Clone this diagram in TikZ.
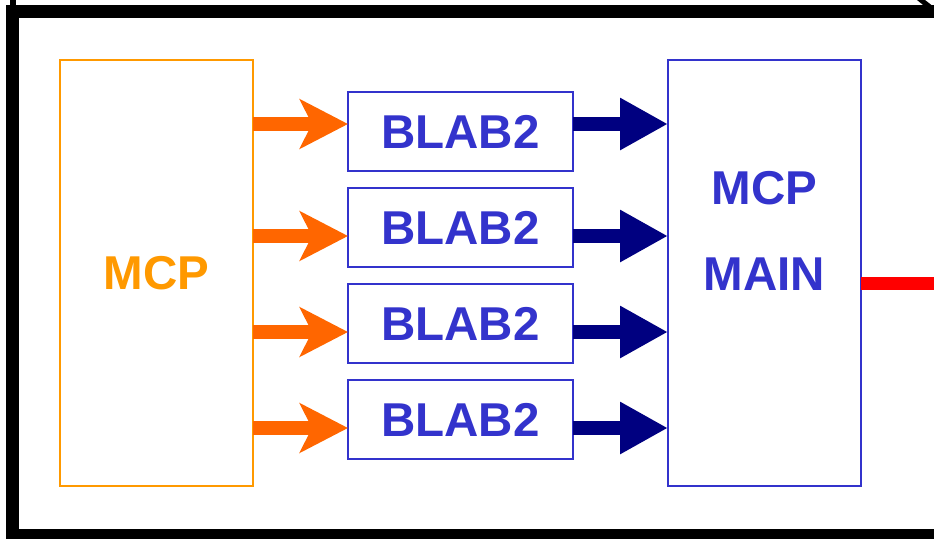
\documentclass[tikz,border=0pt]{standalone}
\usepackage{fontspec}
\setmainfont{Liberation Sans}
\usepackage{xcolor}
\definecolor{Amber}{HTML}{FF9900}
\definecolor{Pumpkin}{HTML}{FF6600}
\definecolor{Iris}{HTML}{3333CC}
\definecolor{Navy}{HTML}{000080}
\definecolor{Signal}{HTML}{FF0000}
\colorlet{cAmber}{Amber}
\colorlet{cOrange}{Pumpkin}
\colorlet{cBlue}{Iris}
\colorlet{cNavy}{Navy}
\colorlet{cRed}{Signal}
\usetikzlibrary{positioning, arrows.meta}
\tikzset{
	font = \fontsize{47.5}{86}\selectfont\bfseries,
	unit/.style={
		draw,
		rectangle,
		line width=1.5pt,
		inner sep=0pt,
		outer sep=0pt,
		align=center
	},
	big unit/.style={
		unit,
		minimum width=193pt,
		minimum height=426pt
	},
	blab/.style={
		unit,
		draw=cBlue,
		text=cBlue,
		minimum width=225pt,
		minimum height=79pt
	},
	fat arrow/.style={
		line width=14pt,
		-{Triangle[length=48pt, width=49pt]}
	},
	notched arrow/.style={
		line width=14pt,
		-{Stealth[length=48pt, width=49pt, inset=12pt]}
	},
	frame/.style={
		draw=black,
		line width=13pt
	}
}

\begin{document}
\begin{tikzpicture}[x=1pt, y=-1pt]
\useasboundingbox (0,0) rectangle (934,538);
\clip (0,0) rectangle (934,538);
% ---
% outer frame
% ---
\draw[frame] (12.5,11.5) rectangle (960,535.5);
\fill[black] (10,0) rectangle (16,6);
\fill[black] (917,0) -- (925,0) -- (934,7) -- (934,14) -- cycle;

% ---
% units
% ---
\node[big unit, draw=cAmber, text=cAmber] at (156.5,273) (mcp) {MCP};
\node[blab] at (460.5,131.5) (b1) {BLAB2};
\node[blab, below=17pt of b1] (b2) {BLAB2};
\node[blab, below=17pt of b2] (b3) {BLAB2};
\node[blab, below=17pt of b3] (b4) {BLAB2};
\node[big unit, draw=cBlue] at (764.5,273) (main) {};
\node[text=cBlue, align=center] at ([yshift=42pt]main.center) (mainlbl) {MCP\\MAIN};

% ---
% links
% ---
\coordinate (a1) at ([yshift=7.5pt]b1.west);
\coordinate (a2) at ([yshift=-8.5pt]b2.west);
\coordinate (a3) at ([yshift=-8.5pt]b3.west);
\coordinate (a4) at ([yshift=-8.5pt]b4.west);
\coordinate (c1) at ([yshift=7.5pt]b1.east);
\coordinate (c2) at ([yshift=-8.5pt]b2.east);
\coordinate (c3) at ([yshift=-8.5pt]b3.east);
\coordinate (c4) at ([yshift=-8.5pt]b4.east);

\draw[notched arrow, cOrange] (mcp.east |- a1) to (a1);
\draw[notched arrow, cOrange] (mcp.east |- a2) to (a2);
\draw[notched arrow, cOrange] (mcp.east |- a3) to (a3);
\draw[notched arrow, cOrange] (mcp.east |- a4) to (a4);

\draw[fat arrow, cNavy] (c1) to (c1 -| main.west);
\draw[fat arrow, cNavy] (c2) to (c2 -| main.west);
\draw[fat arrow, cNavy] (c3) to (c3 -| main.west);
\draw[fat arrow, cNavy] (c4) to (c4 -| main.west);

\coordinate (out) at (945,283.5);
\draw[cRed, line width=13pt] ([yshift=-10.5pt]main.east) to (out);
\end{tikzpicture}
\end{document}
